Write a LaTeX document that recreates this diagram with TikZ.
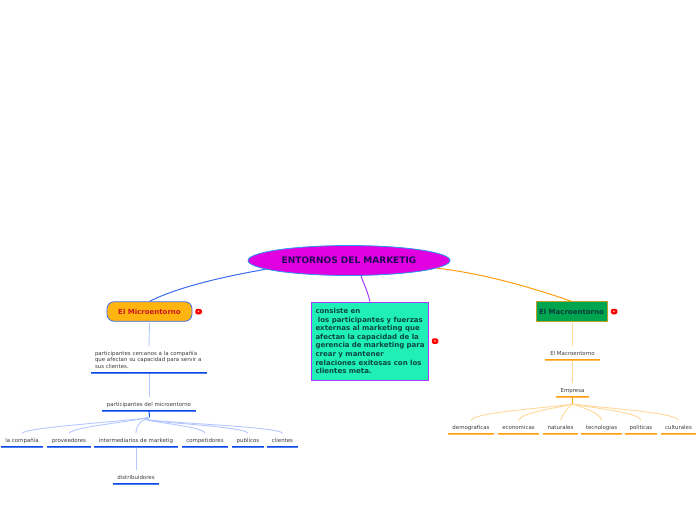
\documentclass[tikz,border=0pt]{standalone}
\usepackage{fontspec}
\setmainfont{DejaVu Sans}
\usetikzlibrary{shapes.geometric,calc}
\definecolor{blueline}{HTML}{0B46E8}
\definecolor{bluepale}{HTML}{B4C8FF}
\definecolor{bluemain}{HTML}{3B6CF0}
\definecolor{orangeline}{HTML}{FF9E0F}
\definecolor{orangepale}{HTML}{FFD79A}
\definecolor{purpleline}{HTML}{A63CFF}
\definecolor{inktext}{HTML}{3A3A3A}
\tikzset{
  x=1pt,y=-1pt,
  leaf/.style={inner sep=0pt,minimum height=13pt,text=inktext,font=\fontsize{5.45}{6.5}\selectfont,anchor=center,text height=5.5pt,text depth=0pt},
  blueul/.style={blueline,line width=1pt},
  orangeul/.style={orangeline,line width=1pt},
  ulhalo/.style={opacity=.7},
  badge/.style={fill=red,rounded corners=1.5pt,minimum width=6.5pt,minimum height=5.5pt,inner sep=0pt,
    path picture={\fill[red!25] (path picture bounding box.center) circle (.8pt);}},
  bluelink/.style={bluepale,line width=.9pt},
  orangelink/.style={orangepale,line width=.9pt},
  hubstub/.style={line width=1pt},
}
\begin{document}
\begin{tikzpicture}
\useasboundingbox (0,0) rectangle (696,520);
% main nodes
\node[ellipse,draw=bluemain!70!cyan,line width=.8pt,fill={rgb,255:red,224;green,0;blue,224},minimum width=202pt,minimum height=30pt,inner sep=0pt,text={rgb,255:red,36;green,10;blue,90},font=\fontsize{9}{11}\selectfont\bfseries] (root) at (349,260.5) {ENTORNOS DEL MARKETIG};
\node[draw=blueline!80,line width=.8pt,rounded corners=7pt,fill={rgb,255:red,255;green,180;blue,15},minimum width=85pt,minimum height=19.5pt,inner sep=0pt,text={rgb,255:red,200;green,25;blue,30},font=\fontsize{7}{8}\selectfont\bfseries] (micro) at (149.5,311.5) {El Microentorno};
\node[draw=purpleline,line width=1pt,fill={rgb,255:red,32;green,240;blue,182},minimum width=117pt,minimum height=78pt,inner sep=0pt,text={rgb,255:red,10;green,70;blue,70},font=\fontsize{7}{8.57}\selectfont\bfseries] (box) at (370,341) {%
  \begin{minipage}{109pt}\raggedright
  consiste en\\
  \ los participantes y fuerzas\\
  externas al marketing que\\
  afectan la capacidad de la\\
  gerencia de marketing para\\
  crear y mantener\\
  relaciones exitosas con los\\
  clientes meta.
  \end{minipage}};
\node[draw={rgb,255:red,190;green,160;blue,40},line width=.8pt,fill={rgb,255:red,0;green,165;blue,80},minimum width=71pt,minimum height=19.5pt,inner sep=0pt,text={rgb,255:red,8;green,60;blue,60},font=\fontsize{7}{8}\selectfont\bfseries] (macro) at (571.5,311.5) {El Macroentorno};
% badges
\node[badge] (b1) at (198.5,311.5) {};
\node[badge] (b2) at (435,341) {};
\node[badge] (b3) at (614,311.5) {};
% left branch
\node[leaf,text height=,text depth=,minimum width=116pt,minimum height=26pt] (cerc) at (149,359.7) {\begin{minipage}{108pt}\raggedright\fontsize{5.45}{6.5}\selectfont participantes cercanos a la compañía\\que afectan su capacidad para servir a\\sus clientes.\end{minipage}};
\node[leaf,minimum width=94pt] (part) at (149,403.5) {participantes del microentorno};
\coordinate (hubl) at (149.5,417.5);
\node[leaf,minimum width=42pt] (l1) at (22,440) {la compañía};
\node[leaf,minimum width=44pt] (l2) at (69,440) {proveedores};
\node[leaf,minimum width=84pt] (l3) at (136,440) {intermediarios de marketig};
\node[leaf,minimum width=46pt] (l4) at (205,440) {competidores};
\node[leaf,minimum width=32pt] (l5) at (248,440) {publicos};
\node[leaf,minimum width=31pt] (l6) at (282.5,440) {clientes};
\node[leaf,minimum width=46pt] (dist) at (136,477) {distribuidores};
% right branch
\node[leaf,minimum width=55pt] (mac2) at (572.5,353) {El Macroentorno};
\node[leaf,minimum width=33pt] (emp) at (572.5,390) {Empresa};
\coordinate (hubr) at (572.5,404);
\node[leaf,minimum width=46pt] (r1) at (471,427) {demograficas};
\node[leaf,minimum width=41pt] (r2) at (518.5,427) {economicas};
\node[leaf,minimum width=35pt] (r3) at (560.5,427) {naturales};
\node[leaf,minimum width=41pt] (r4) at (601.5,427) {tecnologias};
\node[leaf,minimum width=32pt] (r5) at (641,427) {politicas};
\node[leaf,minimum width=35pt] (r6) at (678.5,427) {culturales};
% underlines
\foreach \n in {cerc,part,l1,l2,l3,l4,l5,l6,dist}{
  \draw[blueul] (\n.south west) -- (\n.south east);
  \draw[blueul,ulhalo] ($(\n.south west)+(0,1)$) -- ($(\n.south east)+(0,1)$);}
\foreach \n in {mac2,emp,r1,r2,r3,r4,r5,r6}{
  \draw[orangeul] (\n.south west) -- (\n.south east);
  \draw[orangeul,ulhalo] ($(\n.south west)+(0,1)$) -- ($(\n.south east)+(0,1)$);}
% root connectors
\draw[bluemain,line width=1pt] (root.186.7) .. controls +(-40,7) and +(30,-15) .. (micro.north);
\draw[purpleline,line width=1pt] (root.south)++(12,0) coordinate (rs) (rs) .. controls +(3,9) and +(-4,-15) .. (box.north);
\draw[orangeline,line width=1pt] (root.-5.2) .. controls +(45,5) and +(-40,-14) .. (macro.north);
% left connectors
\draw[bluelink] (micro.south)++(0,1.5) coordinate (ms) -- (cerc.north);
\draw[bluelink] (cerc.south)++(0,1.5) coordinate (cs) -- (part.north);
\draw[blueline,hubstub] (part.south) -- (hubl);
\foreach \n/\a/\b in {l1/{3,-6}/{-25,4},l2/{3,-6}/{-25,5},l3/{0,-8}/{-9,3},l4/{0,-8}/{-25,3},l5/{-2,-8}/{-30,4},l6/{-3,-8}/{-35,4}}
  \draw[bluelink] (\n.north) .. controls +(\a) and ($(hubl)+(\b)$) .. (hubl);
\draw[bluelink] (l3.south)++(0,1.5) coordinate (ls) -- (dist.north);
% right connectors
\draw[orangelink] (macro.south)++(1,1.5) coordinate (ma) -- (mac2.north);
\draw[orangelink] (mac2.south)++(0,1.5) coordinate (ma2) -- (emp.north);
\draw[orangeline,hubstub] (emp.south) -- (hubr);
\foreach \n/\a/\b in {r1/{3,-8}/{-25,4},r2/{3,-8}/{-15,4},r3/{2,-6}/{-5,4},r4/{-1,-7}/{12,4},r5/{-2,-8}/{20,4},r6/{-3,-8}/{30,4}}
  \draw[orangelink] (\n.north) .. controls +(\a) and ($(hubr)+(\b)$) .. (hubr);
\end{tikzpicture}
\end{document}
